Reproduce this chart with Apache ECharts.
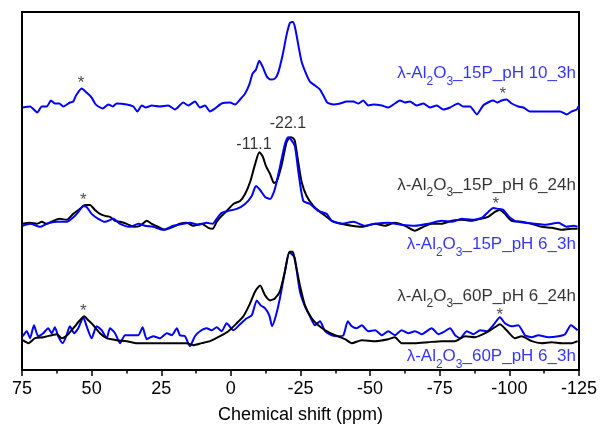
<!DOCTYPE html>
<html>
  <head>
    <meta charset="utf-8" />
    <title>27Al MAS NMR</title>
    <script src="https://cdn.jsdelivr.net/npm/echarts@6/dist/echarts.min.js"></script>
    <style>
      html, body { margin: 0; padding: 0; background: #fff; }
      #chart { width: 601px; height: 429px; }
    </style>
  </head>
  <body>
    <div id="chart"></div>

    <script type="text/javascript">
// Traces: [chemical shift (ppm), stacked intensity]
const pH10_15P_3h = [
  [74.7,264],[72.1,265],[69.5,259],[67.9,265],[66.1,265],[64.6,271],[63.2,268],[61.6,268],[60.2,265],[57.8,269],
  [56.6,270],[55.6,276],[53.6,283],[51.8,279],[50.0,274],[48.8,268],[47.6,265],[46.0,263],[44.0,267],[42.4,265],
  [41.0,268],[37.4,267],[35.0,265],[33.6,260],[32.0,266],[30.5,264],[28.4,266],[25.5,265],[22.5,266],[20.1,262],
  [17.1,269],[15.3,266],[12.9,270],[11.1,264],[9.3,266],[7.5,260],[5.7,263],[3.3,268],[0.3,269],[-1.5,267],
  [-3.3,272],[-5.1,278],[-6.6,287],[-7.8,298],[-9.0,302],[-10.2,311],[-11.4,305],[-12.9,295],[-14.3,292],[-15.8,293],
  [-17.0,299],[-18.6,317],[-20.0,337],[-21.2,349],[-22.2,350],[-23.0,345],[-24.2,327],[-25.4,310],[-27.0,298],[-28.4,290],
  [-30.2,286],[-32.0,282],[-33.4,275],[-34.6,269],[-36.8,267],[-39.2,268],[-41.6,270],[-44.0,270],[-45.8,268],[-47.5,271],
  [-49.3,266],[-51.1,267],[-54.2,266],[-56.5,264],[-58.9,268],[-60.7,271],[-62.5,269],[-64.3,270],[-66.7,266],[-69.1,268],
  [-71.5,264],[-73.9,266],[-76.3,262],[-78.7,264],[-81.6,268],[-83.4,265],[-85.9,265],[-88.3,257],[-90.6,266],[-93.0,270],
  [-94.2,271],[-95.6,269],[-97.2,271],[-99.0,272],[-100.8,268],[-103.2,265],[-105.0,264],[-107.4,260],[-109.8,260],[-112.8,260],
  [-115.7,260],[-118.2,260],[-120.6,257],[-122.4,260],[-124.2,262],[-125.0,266]
];

const pH6_15P_24h = [
  [74.7,147],[72.1,148],[69.7,147],[67.9,149],[66.1,147],[63.8,150],[61.4,152],[59.0,151],[56.6,157],[54.2,162],
  [52.4,166],[50.6,166],[48.8,161],[47.0,157],[45.2,155],[43.4,154],[41.6,150],[39.8,149],[37.4,147],[35.0,144],
  [32.6,145],[30.2,150],[28.4,147],[26.1,144],[23.7,141],[20.7,144],[18.3,147],[15.9,148],[13.5,145],[10.5,147],
  [8.1,143],[6.5,142],[5.1,149],[3.3,155],[1.5,160],[-0.9,167],[-3.3,170],[-5.1,177],[-6.9,189],[-8.7,207],
  [-10.2,219],[-11.4,215],[-12.6,205],[-14.1,197],[-15.5,188],[-16.5,190],[-18.3,207],[-20.0,229],[-21.2,234],[-22.4,233],
  [-23.0,230],[-24.2,209],[-25.4,189],[-27.2,175],[-29.6,165],[-32.0,159],[-34.4,154],[-36.2,150],[-39.8,147],[-43.4,145],
  [-47.0,144],[-51.8,147],[-55.3,145],[-58.9,148],[-62.5,145],[-66.1,140],[-69.1,144],[-72.1,147],[-75.7,147],[-79.3,150],
  [-82.9,151],[-86.5,150],[-89.5,152],[-92.4,154],[-94.8,159],[-96.6,161],[-98.4,157],[-100.8,150],[-104.4,149],[-108.0,147],
  [-111.6,144],[-115.2,143],[-118.8,141],[-122.4,142],[-124.5,142]
];

const pH6_15P_3h = [
  [74.7,145],[72.1,147],[68.5,144],[66.1,147],[62.5,149],[59.0,149],[56.0,155],[54.2,161],[53.0,165],[51.8,164],
  [50.0,157],[47.6,152],[45.2,149],[42.2,152],[39.8,147],[36.2,144],[33.2,147],[30.8,145],[27.9,144],[24.3,141],
  [20.7,145],[17.1,147],[14.7,148],[11.7,146],[8.7,148],[6.5,147],[5.1,152],[3.3,158],[0.9,160],[-2.1,162],
  [-5.1,167],[-7.5,175],[-9.0,185],[-10.5,181],[-12.3,174],[-14.1,172],[-15.8,182],[-17.6,204],[-19.4,227],[-20.6,234],
  [-21.8,231],[-23.0,225],[-24.2,200],[-26.0,170],[-28.4,167],[-31.4,160],[-34.4,157],[-36.2,150],[-39.8,147],[-44.0,149],
  [-48.2,145],[-51.8,147],[-56.5,148],[-61.3,146],[-66.1,145],[-70.9,147],[-75.7,150],[-79.3,149],[-82.9,152],[-86.5,151],
  [-90.1,153],[-92.4,159],[-94.2,163],[-96.0,162],[-97.8,161],[-99.6,155],[-102.0,150],[-105.6,148],[-109.2,147],[-112.8,146],
  [-117.6,148],[-120.6,144],[-123.0,145],[-124.5,144]
];

const pH6_60P_24h = [
  [74.7,30],[72.7,27],[70.3,32],[67.4,33],[64.3,35],[62.5,36],[60.7,32],[58.4,36],[56.0,44],[54.2,50],
  [52.7,54],[51.2,50],[49.4,45],[47.0,37],[44.6,32],[41.0,30],[37.4,29],[33.8,27],[29.0,27],[24.3,27],
  [19.4,27],[15.9,27],[13.5,25],[10.5,27],[7.5,29],[3.9,34],[0.9,39],[-2.1,47],[-4.5,54],[-6.9,67],
  [-8.7,79],[-10.5,85],[-12.3,75],[-14.1,70],[-15.8,72],[-17.6,79],[-19.4,99],[-21.0,119],[-22.2,119],[-23.0,110],
  [-24.8,85],[-26.6,65],[-29.0,52],[-31.4,45],[-34.4,39],[-37.4,35],[-41.0,31],[-43.4,27],[-47.0,30],[-51.8,29],
  [-56.5,31],[-58.9,33],[-61.3,27],[-66.1,27],[-70.9,28],[-75.7,29],[-80.5,29],[-84.1,34],[-87.7,33],[-91.3,37],
  [-94.8,43],[-96.6,46],[-99.0,40],[-102.0,32],[-104.4,34],[-108.0,29],[-111.6,27],[-115.2,28],[-118.8,27],[-122.4,27],
  [-124.5,29]
];

const pH6_60P_3h = [
  [74.7,34],[73.3,39],[72.1,32],[70.7,45],[69.2,34],[67.4,37],[65.6,42],[64.3,37],[63.2,43],[62.0,34],
  [60.4,27],[59.0,35],[57.8,44],[56.3,37],[54.8,42],[53.0,53],[51.8,44],[50.0,32],[48.2,44],[46.4,40],
  [44.6,32],[43.4,42],[41.6,37],[39.8,27],[38.0,35],[35.0,35],[33.2,35],[31.7,43],[30.2,31],[27.9,34],
  [25.5,32],[23.0,37],[21.2,35],[19.4,42],[18.3,35],[16.5,34],[14.7,24],[12.9,34],[11.1,39],[8.7,42],
  [6.9,40],[5.1,43],[3.3,39],[1.5,47],[-0.9,40],[-3.3,46],[-5.7,52],[-7.5,55],[-9.3,70],[-10.7,65],
  [-12.3,62],[-13.8,55],[-14.8,44],[-16.2,55],[-17.6,72],[-19.4,99],[-21.0,118],[-22.4,115],[-23.0,112],[-24.8,79],
  [-26.6,64],[-28.4,54],[-30.2,45],[-32.0,49],[-33.8,39],[-36.2,35],[-38.6,34],[-40.4,35],[-42.0,49],[-43.4,44],
  [-45.2,42],[-47.0,45],[-49.3,39],[-51.8,40],[-54.2,35],[-56.5,39],[-58.9,35],[-61.3,40],[-63.7,37],[-66.1,39],
  [-68.5,36],[-72.1,42],[-74.5,36],[-76.3,38],[-78.7,42],[-80.5,35],[-82.3,32],[-84.7,39],[-87.1,36],[-89.5,40],
  [-91.9,39],[-94.2,45],[-96.6,53],[-98.4,47],[-100.8,44],[-103.2,45],[-105.6,35],[-108.0,33],[-110.4,35],[-114.0,33],
  [-117.6,34],[-120.0,36],[-122.1,45],[-124.5,40]
];

// Sample names (printed as λ-Al2O3_<name>), right end shift and text height
const sampleNames = ['15P_pH 10_3h', '15P_pH 6_24h', '15P_pH 6_3h', '60P_pH 6_24h', '60P_pH 6_3h'];
const sampleLabelY = [298, 186, 126.5, 74.5, 13.5];
const sampleLabelX = -123.9;

// Peak positions marked on the 15P pH 6 spectra
const peakLabels = ['-11.1', '-22.1'];
const peakLabelPos = [[-8.3, 227], [-20.5, 248]];

// Spinning sidebands (*)
const sidebandPos = [[53.8, 291], [-97.6, 280], [53.0, 174], [-95.1, 170], [53.0, 62], [-96.6, 58]];

const BLUE = '#0000ff';
const BLACK = '#000000';
const FONT = 'Liberation Sans, Arial, sans-serif';

function trace(data, color) {
  return {
    type: 'line',
    data: data,
    showSymbol: false,
    smooth: 0.2,
    lineStyle: { color: color, width: 2 },
    silent: true,
  };
}

const sampleColors = [BLUE, BLACK, BLUE, BLACK, BLUE];
const sampleData = sampleNames.map((name, i) => ({
  value: [sampleLabelX, sampleLabelY[i]],
  label: {
    formatter: '{a|λ-Al}{b|2}{a|O}{b|3}{a|_' + name + '}',
    rich: {
      a: { fontSize: 17, lineHeight: 20, color: sampleColors[i], fontFamily: FONT },
      // top padding pushes the small digits below the baseline
      b: { fontSize: 12, lineHeight: 12, padding: [16, 0, 0, 0], color: sampleColors[i], fontFamily: FONT },
    },
  },
}));

const option = {
  animation: false,
  backgroundColor: '#fff',
  grid: {
    left: 22,
    right: 22,
    top: 12,
    bottom: 57,
    show: true,
    borderColor: '#000',
    borderWidth: 2,
  },
  xAxis: {
    type: 'value',
    inverse: true,
    min: -125,
    max: 75,
    interval: 25,
    name: 'Chemical shift (ppm)',
    nameLocation: 'middle',
    nameGap: 36,
    nameTextStyle: { fontSize: 18, color: '#000', fontFamily: FONT },
    axisLine: { show: true, lineStyle: { color: '#000', width: 2 } },
    axisTick: { show: true, length: 6, lineStyle: { color: '#000', width: 1.5 } },
    minorTick: { show: true, splitNumber: 2, length: 3.5, lineStyle: { color: '#000', width: 1.5 } },
    splitLine: { show: false },
    axisLabel: { fontSize: 18, color: '#000', margin: 10, fontFamily: FONT },
  },
  yAxis: {
    type: 'value',
    min: 0,
    max: 360,
    show: false,
  },
  series: [
    trace(pH10_15P_3h, BLUE),
    trace(pH6_15P_24h, BLACK),
    trace(pH6_15P_3h, BLUE),
    trace(pH6_60P_3h, BLUE),
    trace(pH6_60P_24h, BLACK),
    {
      type: 'scatter',
      symbolSize: 0,
      silent: true,
      data: sampleData,
      label: { show: true, position: 'left', distance: 0, align: 'right' },
    },
    {
      type: 'scatter',
      symbolSize: 0,
      silent: true,
      data: peakLabels.map((t, i) => ({ value: peakLabelPos[i], name: t })),
      label: {
        show: true,
        position: 'inside',
        formatter: '{b}',
        fontSize: 16,
        color: '#000',
        fontFamily: FONT,
      },
    },
    {
      type: 'scatter',
      symbolSize: 0,
      silent: true,
      data: sidebandPos.map((p) => [p[0], p[1] - 3]),
      label: {
        show: true,
        position: 'inside',
        formatter: '*',
        fontSize: 17,
        color: '#222',
        fontFamily: FONT,
      },
    },
  ],
};

const chart = echarts.init(document.getElementById('chart'));
chart.setOption(option);
    </script>
  </body>
</html>
